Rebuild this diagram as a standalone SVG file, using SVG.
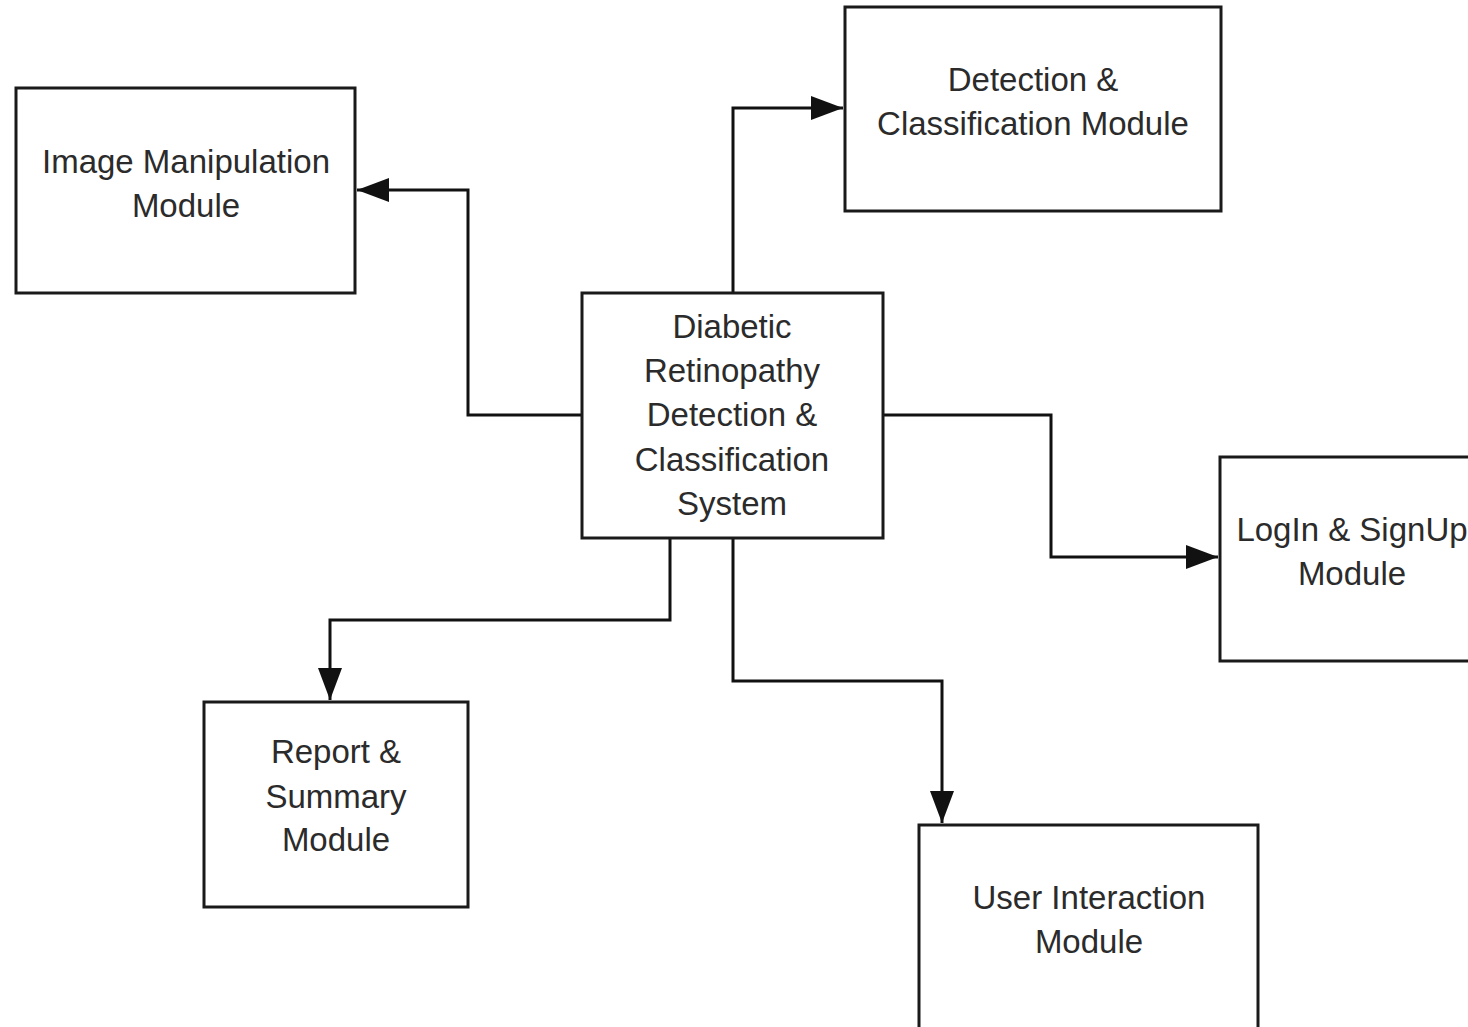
<svg xmlns="http://www.w3.org/2000/svg" width="1468" height="1027" viewBox="0 0 1468 1027">
<defs>
<style>
.box{fill:#fff;stroke:#1a1a1a;stroke-width:3}
.lbl{font-family:"Liberation Sans",Arial,sans-serif;font-size:33px;fill:#2b2b2b;text-anchor:middle}
.edge{fill:none;stroke:#111;stroke-width:3}
</style>
<marker id="arr" viewBox="0 0 32 24" refX="32" refY="12" markerWidth="32" markerHeight="24" markerUnits="userSpaceOnUse" orient="auto">
<path d="M0,0 L32,12 L0,24 Z" fill="#111"/>
</marker>
</defs>
<rect width="1468" height="1027" fill="#fff"/>
<g id="connectors">
<path class="edge" d="M582,415 H468 V190 H357" marker-end="url(#arr)"/>
<path class="edge" d="M733,293 V108 H843" marker-end="url(#arr)"/>
<path class="edge" d="M883,415 H1051 V557 H1218" marker-end="url(#arr)"/>
<path class="edge" d="M670,538 V620 H330 V700" marker-end="url(#arr)"/>
<path class="edge" d="M733,538 V681 H942 V823" marker-end="url(#arr)"/>
</g>
<g id="image-manipulation">
<rect class="box" x="16" y="88" width="339" height="205"/>
<text class="lbl" x="186" y="173">Image Manipulation</text>
<text class="lbl" x="186" y="217">Module</text>
</g>
<g id="detection-classification">
<rect class="box" x="845" y="7" width="376" height="204"/>
<text class="lbl" x="1033" y="91">Detection &amp;</text>
<text class="lbl" x="1033" y="135">Classification Module</text>
</g>
<g id="central-system">
<rect class="box" x="582" y="293" width="301" height="245"/>
<text class="lbl" x="732" y="338">Diabetic</text>
<text class="lbl" x="732" y="382">Retinopathy</text>
<text class="lbl" x="732" y="426">Detection &amp;</text>
<text class="lbl" x="732" y="471">Classification</text>
<text class="lbl" x="732" y="515">System</text>
</g>
<g id="login-signup">
<rect class="box" x="1220" y="457" width="260" height="204"/>
<text class="lbl" x="1352" y="541">LogIn &amp; SignUp</text>
<text class="lbl" x="1352" y="585">Module</text>
</g>
<g id="report-summary">
<rect class="box" x="204" y="702" width="264" height="205"/>
<text class="lbl" x="336" y="763">Report &amp;</text>
<text class="lbl" x="336" y="808">Summary</text>
<text class="lbl" x="336" y="851">Module</text>
</g>
<g id="user-interaction">
<rect class="box" x="919" y="825" width="339" height="215"/>
<text class="lbl" x="1089" y="909">User Interaction</text>
<text class="lbl" x="1089" y="953">Module</text>
</g>
</svg>
